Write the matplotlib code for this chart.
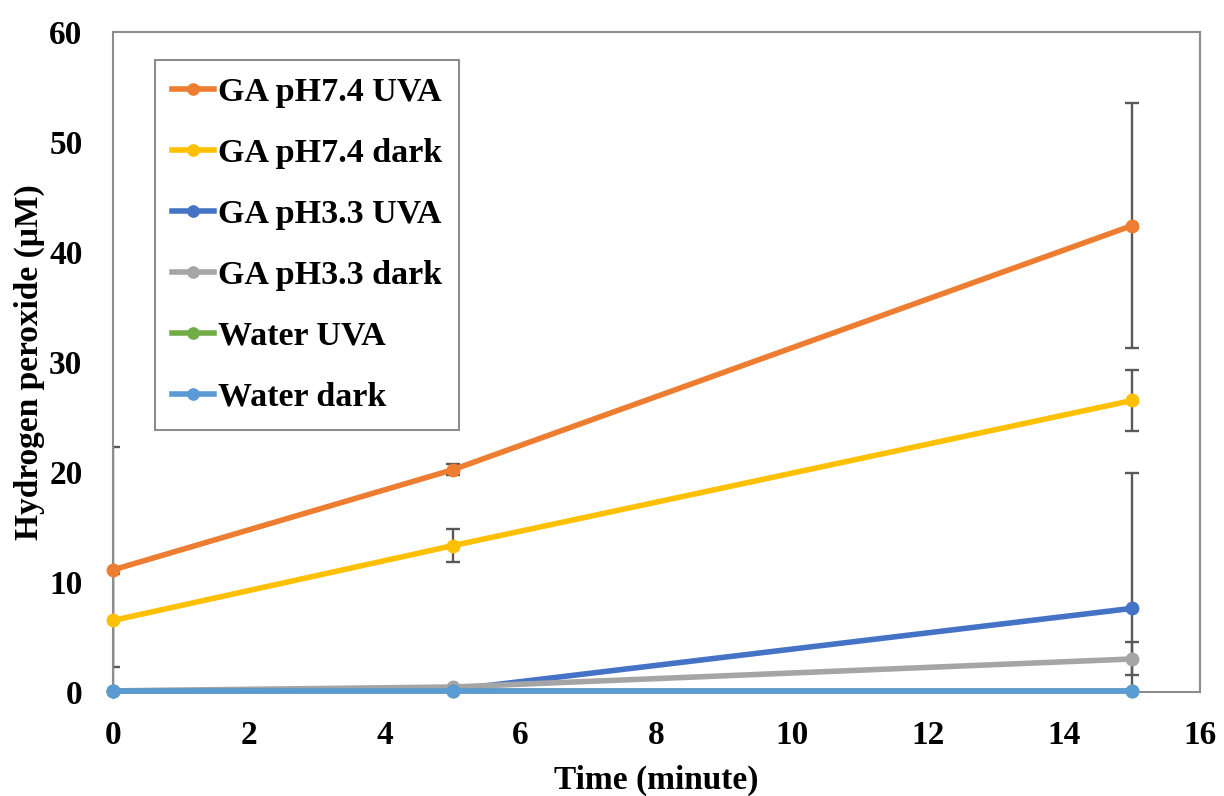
import matplotlib
matplotlib.use("Agg")
import matplotlib.pyplot as plt

time = [0, 5, 15]
series_names = ["GA pH7.4 UVA", "GA pH7.4 dark", "GA pH3.3 UVA", "GA pH3.3 dark", "Water UVA", "Water dark"]
ga74_uva = [11.1, 20.2, 42.4]
ga74_uva_err = [11.2, 0.5, 11.1]
ga74_dark = [6.5, 13.3, 26.5]
ga74_dark_err = [4.2, 1.5, 2.8]
ga33_uva = [0.1, 0.2, 7.6]
ga33_uva_err = [0.0, 0.0, 12.3]
ga33_dark = [0.1, 0.45, 3.0]
ga33_dark_err = [0.0, 0.0, 1.5]
water_uva = [0.05, 0.05, 0.05]
water_uva_err = [0.0, 0.0, 0.0]
water_dark = [0.1, 0.1, 0.1]
water_dark_err = [0.0, 0.0, 0.0]

values = [ga74_uva, ga74_dark, ga33_uva, ga33_dark, water_uva, water_dark]
errors = [ga74_uva_err, ga74_dark_err, ga33_uva_err, ga33_dark_err, water_uva_err, water_dark_err]
colors = ["#ED7D31", "#FFC000", "#4472C4", "#A5A5A5", "#70AD47", "#5B9BD5"]

x_ticks = [0, 2, 4, 6, 8, 10, 12, 14, 16]
y_ticks = [0, 10, 20, 30, 40, 50, 60]

plt.rcParams['font.family'] = ['Liberation Serif', 'DejaVu Serif']
plt.rcParams['font.weight'] = 'bold'

fig = plt.figure(figsize=(12.24, 7.96), dpi=100)
ax = fig.add_axes([0.0923, 0.1307, 0.8881, 0.8291])

for name, v, e, c in zip(series_names, values, errors, colors):
    ax.errorbar(time, v, yerr=e, fmt='none', ecolor='#595959', elinewidth=1.7,
                capsize=5, capthick=1.7, zorder=2)
    ax.plot(time, v, color=c, lw=4, marker='o', markersize=9, label=name,
            clip_on=False, zorder=3)

ax.set_xlim(0, 16)
ax.set_ylim(0, 60)
ax.set_xticks(x_ticks)
ax.set_yticks(y_ticks)
ax.tick_params(length=0, labelsize=24)
ax.tick_params(axis='y', pad=22)
ax.tick_params(axis='x', pad=20)
for lab in ax.get_xticklabels() + ax.get_yticklabels():
    lab.set_fontweight('bold')
for s in ax.spines.values():
    s.set_color('#8C8C8C')
    s.set_linewidth(1.5)

ax.set_xlabel("Time (minute)", fontsize=24, fontweight='bold', labelpad=10)
ax.set_ylabel("Hydrogen peroxide (μM)", fontsize=24, fontweight='bold', labelpad=3)

leg = ax.legend(loc='upper left', bbox_to_anchor=(0.0386, 0.9576),
                prop={'weight': 'bold', 'size': 24.5}, handlelength=1.25,
                handletextpad=0.1, labelspacing=0.88, borderpad=0.5,
                fancybox=False, framealpha=1, borderaxespad=0, markerscale=0.9)
leg.get_frame().set_edgecolor('#8C8C8C')
leg.get_frame().set_linewidth(1.5)

fig.savefig("out.png", dpi=100)
